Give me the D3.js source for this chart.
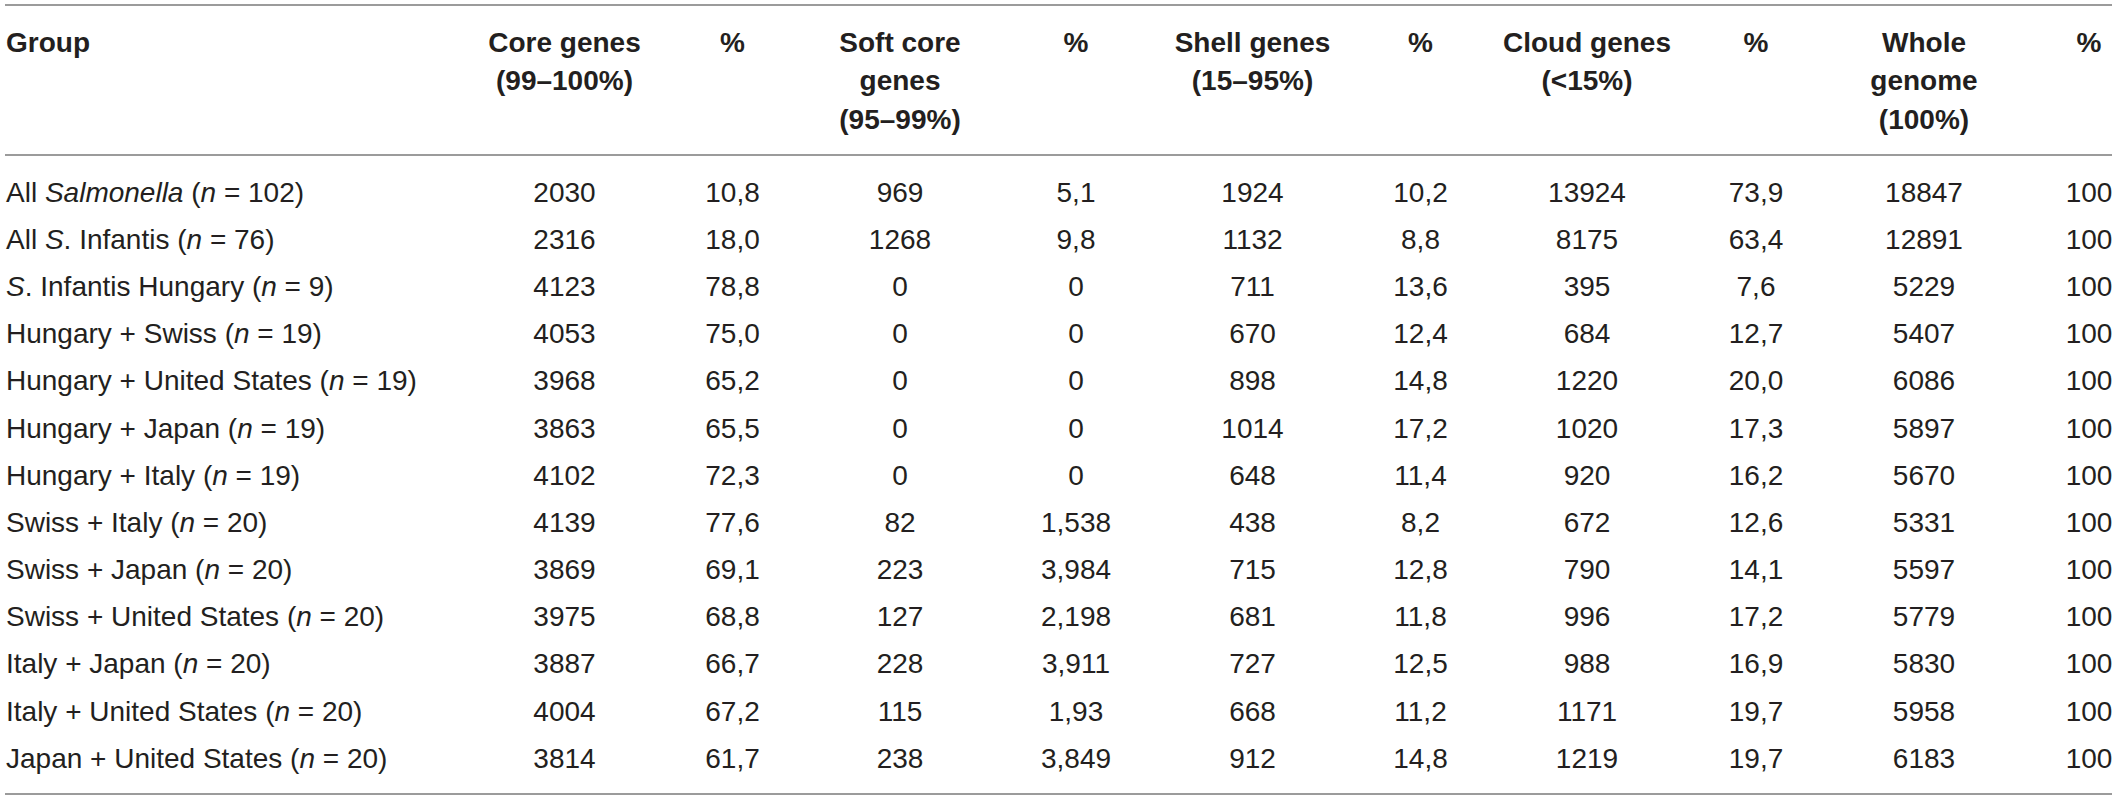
<!DOCTYPE html>
<html>
<head>
<meta charset="utf-8">
<script src="https://cdn.jsdelivr.net/npm/d3@7"></script>
<style>
  html, body { margin: 0; padding: 0; background: #ffffff; }
  svg { display: block; }
</style>
</head>
<body>
<svg id="chart" width="2118" height="801"></svg>
<script>
// ---------- data ----------
const headers = [
  ["Group"],
  ["Core genes", "(99–100%)"],
  ["%"],
  ["Soft core", "genes", "(95–99%)"],
  ["%"],
  ["Shell genes", "(15–95%)"],
  ["%"],
  ["Cloud genes", "(<15%)"],
  ["%"],
  ["Whole", "genome", "(100%)"],
  ["%"]
];

const groups = [
  "All <i>Salmonella</i> (<i>n</i> = 102)",
  "All <i>S</i>. Infantis (<i>n</i> = 76)",
  "<i>S</i>. Infantis Hungary (<i>n</i> = 9)",
  "Hungary + Swiss (<i>n</i> = 19)",
  "Hungary + United States (<i>n</i> = 19)",
  "Hungary + Japan (<i>n</i> = 19)",
  "Hungary + Italy (<i>n</i> = 19)",
  "Swiss + Italy (<i>n</i> = 20)",
  "Swiss + Japan (<i>n</i> = 20)",
  "Swiss + United States (<i>n</i> = 20)",
  "Italy + Japan (<i>n</i> = 20)",
  "Italy + United States (<i>n</i> = 20)",
  "Japan + United States (<i>n</i> = 20)"
];

const coreGenes  = ["2030","2316","4123","4053","3968","3863","4102","4139","3869","3975","3887","4004","3814"];
const corePct    = ["10,8","18,0","78,8","75,0","65,2","65,5","72,3","77,6","69,1","68,8","66,7","67,2","61,7"];
const softCore   = ["969","1268","0","0","0","0","0","82","223","127","228","115","238"];
const softPct    = ["5,1","9,8","0","0","0","0","0","1,538","3,984","2,198","3,911","1,93","3,849"];
const shellGenes = ["1924","1132","711","670","898","1014","648","438","715","681","727","668","912"];
const shellPct   = ["10,2","8,8","13,6","12,4","14,8","17,2","11,4","8,2","12,8","11,8","12,5","11,2","14,8"];
const cloudGenes = ["13924","8175","395","684","1220","1020","920","672","790","996","988","1171","1219"];
const cloudPct   = ["73,9","63,4","7,6","12,7","20,0","17,3","16,2","12,6","14,1","17,2","16,9","19,7","19,7"];
const wholeGenome= ["18847","12891","5229","5407","6086","5897","5670","5331","5597","5779","5830","5958","6183"];
const wholePct   = ["100","100","100","100","100","100","100","100","100","100","100","100","100"];

const numericColumns = [coreGenes, corePct, softCore, softPct, shellGenes, shellPct,
                        cloudGenes, cloudPct, wholeGenome, wholePct];

// ---------- layout ----------
const W = 2118, H = 801;
const svg = d3.select("#chart");
const FONT = "'Liberation Sans', Arial, Helvetica, sans-serif";
const textColor = "#231f20";
const ruleColor = "#9b9b9b";

// column widths (layout only); centres are derived from them
const firstColLeft = 6;
const colWidths = [480, 168, 168, 176, 176, 168, 168, 168, 168, 166];
const colStarts = [480.5];
colWidths.slice(1).forEach((w, i) => colStarts.push(colStarts[i] + (colWidths[i] + w) / 2));
const xCol = d3.scaleOrdinal().domain(d3.range(1, 11)).range(
  [564.5, 732.5, 900, 1076, 1252.5, 1420.5, 1587, 1756, 1924, 2089]
);

// rows
const yRow = d3.scalePoint().domain(d3.range(groups.length)).range([201.7, 767.7]);
const yHead = d3.scalePoint().domain([0, 1, 2]).range([51.5, 128.5]);

// rules
const rules = [5, 155, 794];
svg.selectAll("line.rule").data(rules).join("line")
  .attr("class", "rule")
  .attr("x1", 5).attr("x2", 2112)
  .attr("y1", d => d).attr("y2", d => d)
  .attr("stroke", ruleColor).attr("stroke-width", 2);

// header
const hdr = svg.append("g").attr("font-family", FONT).attr("font-size", 28)
  .attr("font-weight", "bold").attr("fill", textColor);
headers.forEach((lines, ci) => {
  const t = hdr.append("text")
    .attr("text-anchor", ci === 0 ? "start" : "middle");
  lines.forEach((ln, li) => {
    t.append("tspan")
      .attr("x", ci === 0 ? firstColLeft : xCol(ci))
      .attr("y", yHead(li))
      .text(ln);
  });
});

// body: first column with italics
const body = svg.append("g").attr("font-family", FONT).attr("font-size", 28)
  .attr("fill", textColor);

groups.forEach((g, ri) => {
  const t = body.append("text").attr("x", firstColLeft).attr("y", yRow(ri))
    .attr("text-anchor", "start");
  g.split(/(<i>.*?<\/i>)/).filter(s => s.length).forEach(seg => {
    const it = seg.startsWith("<i>");
    t.append("tspan")
      .attr("font-style", it ? "italic" : "normal")
      .text(it ? seg.slice(3, -4) : seg);
  });
});

// numeric cells
numericColumns.forEach((col, ci) => {
  body.selectAll(null).data(col).join("text")
    .attr("x", xCol(ci + 1))
    .attr("y", (d, ri) => yRow(ri))
    .attr("text-anchor", "middle")
    .text(d => d);
});
</script>
</body>
</html>
